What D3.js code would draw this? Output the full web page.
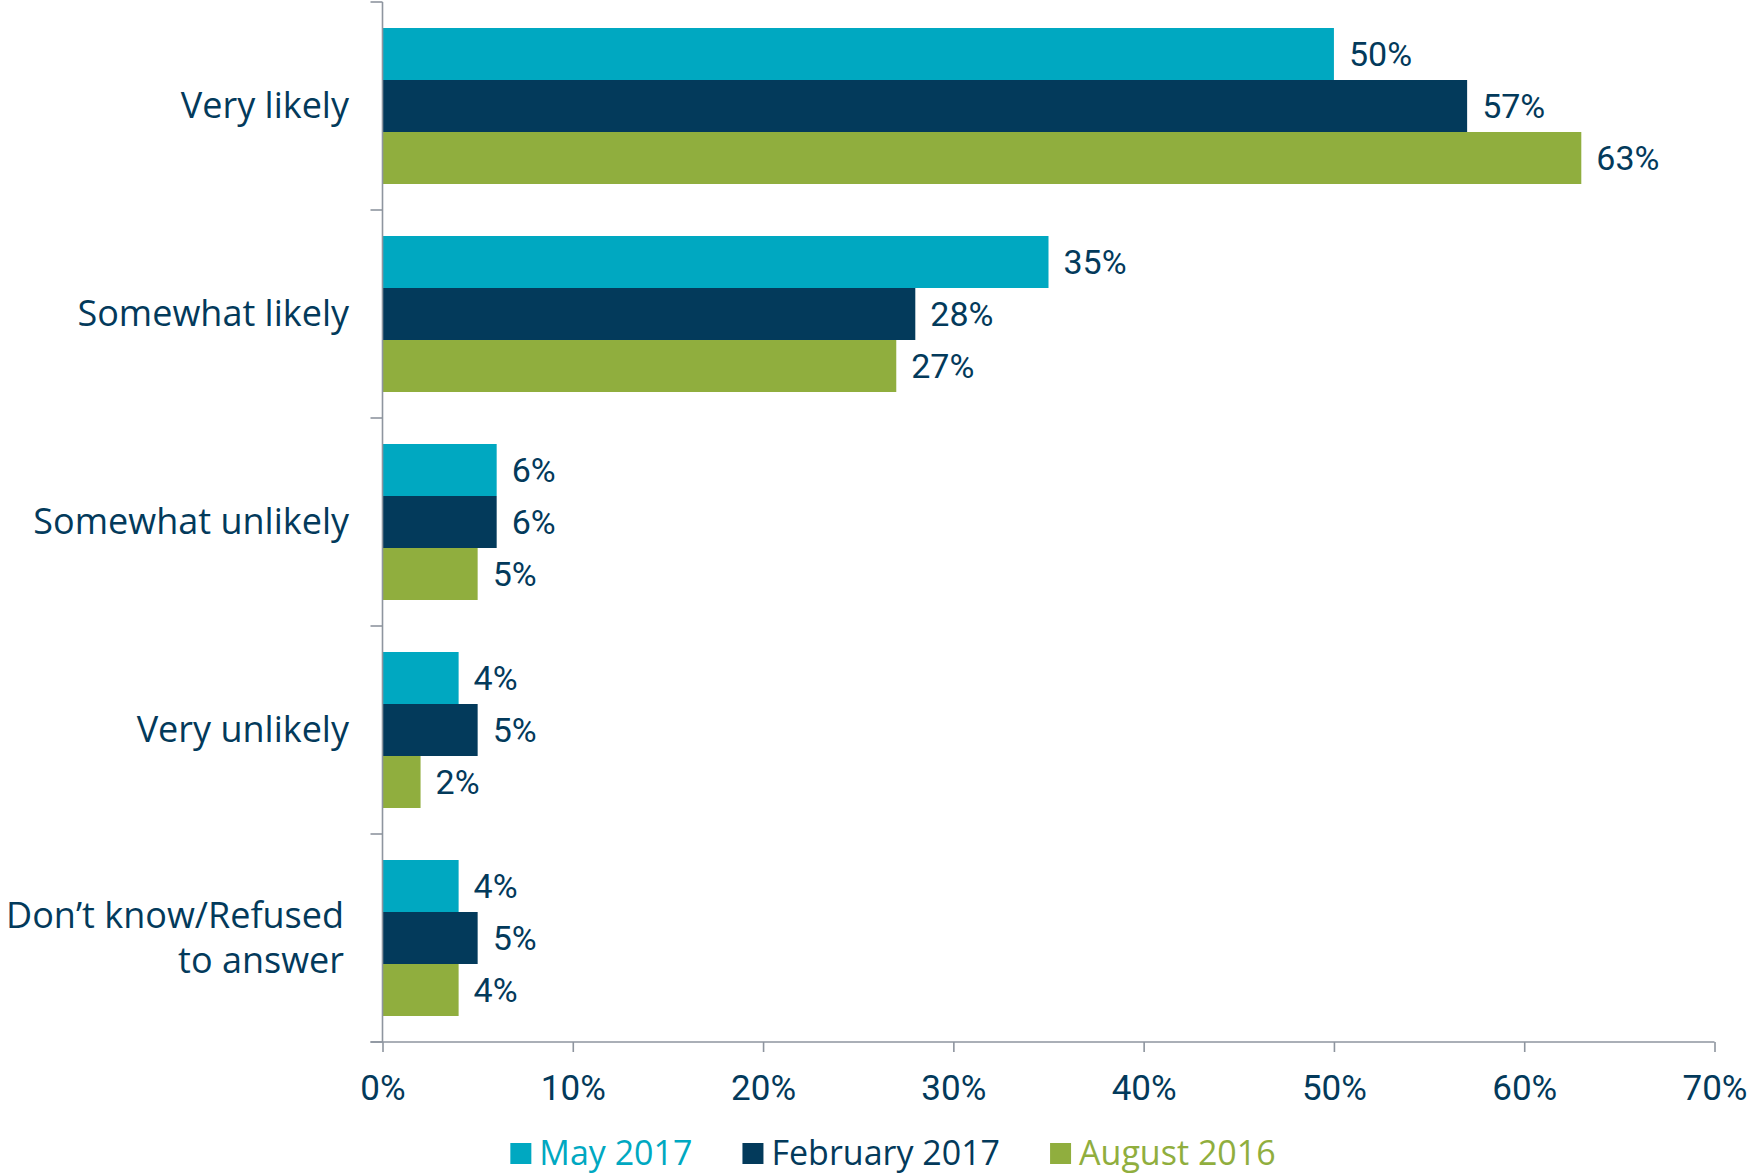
<!DOCTYPE html>
<html>
<head>
<meta charset="utf-8">
<script src="https://d3js.org/d3.v7.min.js"></script>
<style>
  html, body { margin: 0; padding: 0; background: #fff; }
  svg { display: block; }
</style>
</head>
<body>
<svg id="chart" width="1748" height="1174"></svg>
<script>
// ---- data ----
const categories = ["Very likely", "Somewhat likely", "Somewhat unlikely", "Very unlikely", "Don’t know/Refused|to answer"];
const seriesNames = ["May 2017", "February 2017", "August 2016"];
const may2017 = [50, 35, 6, 4, 4];
const feb2017 = [57, 28, 6, 5, 5];
const aug2016 = [63, 27, 5, 2, 4];
const xTicks = [0, 10, 20, 30, 40, 50, 60, 70];
const tickLabels = ["0%", "10%", "20%", "30%", "40%", "50%", "60%", "70%"];

(function () {
const seriesValues = [may2017, feb2017, aug2016];
const colors = ["#00A8C1", "#033A5B", "#90AE3E"];
const textColor = "#033A5B";
const axisColor = "#8E959F";

const svg = d3.select("#chart");

const pLeft = 382.5, pRight = 1714.5, pTop = 2, pBottom = 1042;

const x = d3.scaleLinear().domain([0, 70]).range([pLeft, pRight]);
const y = d3.scaleBand().domain(d3.range(categories.length)).range([pTop, pBottom])
  .paddingInner(0.25).paddingOuter(0.125);
const yOuter = d3.scaleBand().domain(d3.range(categories.length)).range([pTop, pBottom]).padding(0);
const ySub = d3.scaleBand().domain(d3.range(seriesNames.length)).range([0, y.bandwidth()]).padding(0);

// bars
const groups = svg.append("g").selectAll("g")
  .data(categories.map((c, i) => i))
  .join("g")
  .attr("transform", i => `translate(0,${y(i)})`);

groups.selectAll("rect")
  .data(i => seriesValues.map((vals, s) => ({ s, v: vals[i] })))
  .join("rect")
  .attr("x", x(0))
  .attr("y", d => ySub(d.s))
  .attr("width", d => x(d.v) - x(0))
  .attr("height", ySub.bandwidth())
  .attr("fill", d => colors[d.s]);

groups.selectAll("text")
  .data(i => seriesValues.map((vals, s) => ({ s, v: vals[i] })))
  .join("text")
  .attr("x", d => x(d.v) + 15)
  .attr("y", d => ySub(d.s) + ySub.bandwidth() / 2 + 12)
  .attr("font-family", "Roboto, 'Open Sans', sans-serif")
  .attr("font-size", 34)
  .attr("fill", textColor)
  .text(d => d.v + "%");

// y axis line + boundary ticks
const axisG = svg.append("g");
axisG.append("line")
  .attr("x1", x(0)).attr("x2", x(0))
  .attr("y1", pTop).attr("y2", pBottom)
  .attr("stroke", axisColor).attr("stroke-width", 1.6);
const boundaries = d3.range(categories.length + 1).map(i => i < categories.length ? yOuter(i) : pBottom);
axisG.selectAll("line.yt").data(boundaries).join("line")
  .attr("class", "yt")
  .attr("x1", x(0) - 12).attr("x2", x(0))
  .attr("y1", d => d).attr("y2", d => d)
  .attr("stroke", axisColor).attr("stroke-width", 1.6);

// x axis
const xAxis = d3.axisBottom(x).tickValues(xTicks).tickSize(10).tickFormat((d, i) => tickLabels[i]);
const xg = svg.append("g").attr("transform", `translate(0,${pBottom})`).call(xAxis);
xg.select(".domain").remove();
xg.selectAll(".tick line").attr("stroke", axisColor).attr("stroke-width", 1.6);
xg.selectAll(".tick text")
  .attr("font-family", "Roboto, 'Open Sans', sans-serif")
  .attr("font-size", 35)
  .attr("fill", textColor)
  .attr("dy", null)
  .attr("y", 58);
svg.append("line")
  .attr("x1", x(0) - 12).attr("x2", pRight)
  .attr("y1", pBottom).attr("y2", pBottom)
  .attr("stroke", axisColor).attr("stroke-width", 1.6);

// category labels
const catG = svg.append("g");
categories.forEach((c, i) => {
  const lines = c.split("|");
  const cy = yOuter(i) + yOuter.bandwidth() / 2;
  const lh = 45;
  const t = catG.append("text")
    .attr("text-anchor", "end")
    .attr("font-family", "'Open Sans', sans-serif")
    .attr("font-size", 36)
    .attr("fill", textColor);
  lines.forEach((ln, k) => {
    const base = cy + 12 + (k - (lines.length - 1) / 2) * lh;
    t.append("tspan")
      .attr("x", lines.length > 1 ? 344 : 349)
      .attr("y", base)
      .text(ln);
  });
});

// legend
const legend = svg.append("g");
let cursor = 0;
seriesNames.forEach((name, s) => {
  const g = legend.append("g");
  g.append("rect").attr("x", cursor).attr("y", -22).attr("width", 21).attr("height", 21).attr("fill", colors[s]);
  const t = g.append("text")
    .attr("x", cursor + 29).attr("y", 0)
    .attr("font-family", "'Open Sans', sans-serif")
    .attr("font-size", 34)
    .attr("fill", colors[s])
    .text(name);
  const w = t.node().getComputedTextLength();
  cursor += 29 + w + 50;
});
const totalW = cursor - 50;
legend.attr("transform", `translate(${893 - totalW / 2},1165)`);
})();
</script>
</body>
</html>
